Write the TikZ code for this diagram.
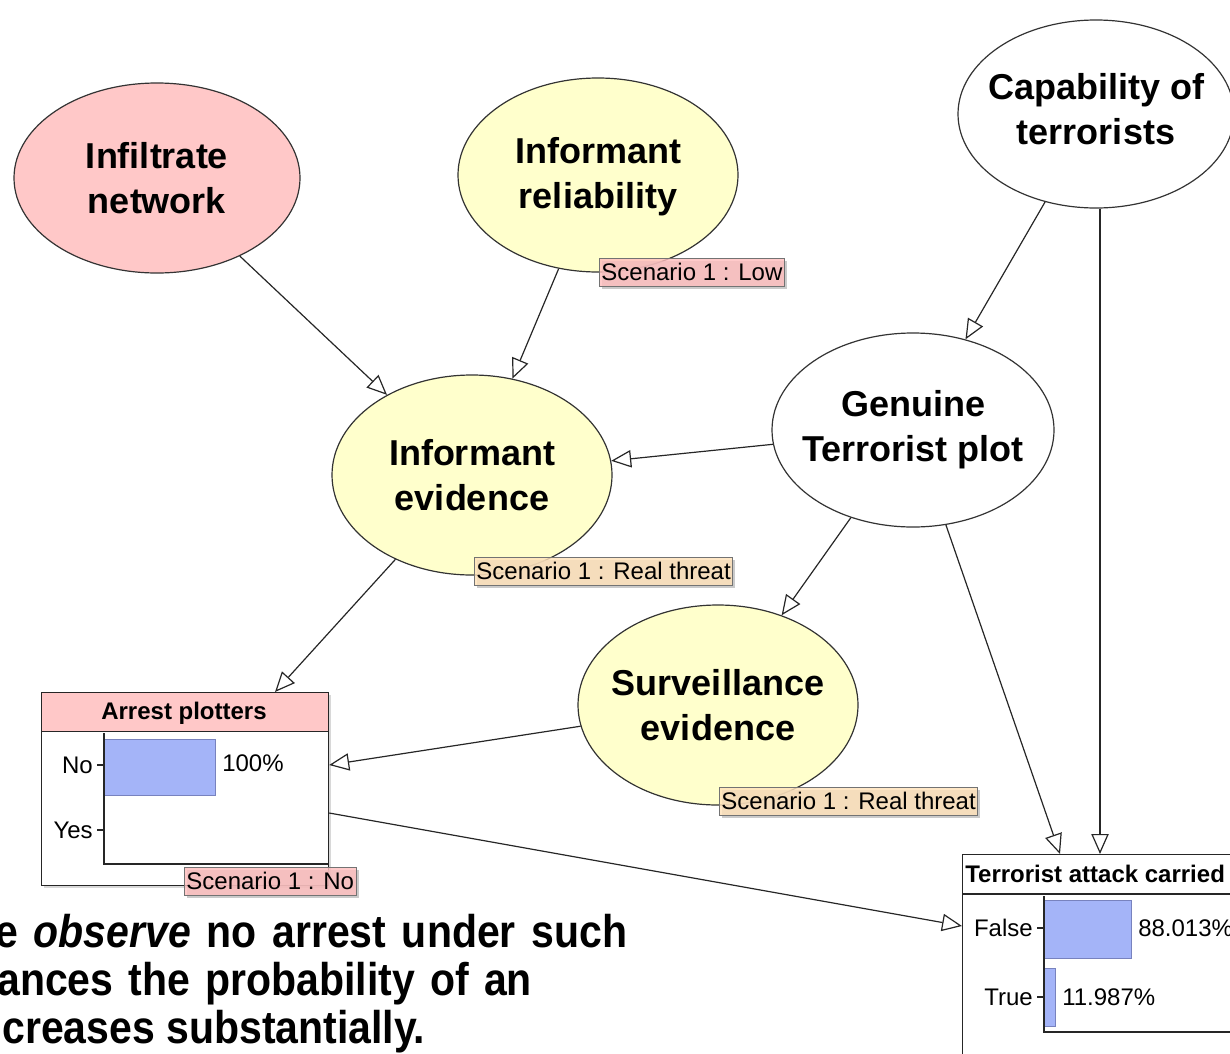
\documentclass[tikz,border=0pt]{standalone}
\usepackage{fontspec}
\setmainfont{Liberation Sans}
\usetikzlibrary{shapes.geometric,arrows.meta,calc,shadows}
\definecolor{evpink}{RGB}{255,200,200}
\definecolor{evyellow}{RGB}{255,255,204}
\definecolor{lblpink}{RGB}{255,190,190}
\definecolor{lblorange}{RGB}{255,226,186}
\definecolor{barblue}{RGB}{164,180,248}
\definecolor{bardraw}{RGB}{120,130,190}
% justified caption line, slightly stretched vertically
\newcommand{\capline}[2]{\scalebox{1}[1.12]{\makebox[#1][s]{#2}}}
\newcommand{\caplast}[1]{\scalebox{1}[1.12]{#1}}
\begin{document}
\begin{tikzpicture}[x=0.75pt,y=-0.75pt,
  bn/.style={ellipse,draw=black!80,line width=0.9pt,inner sep=0pt},
  bntext/.style={align=center,inner sep=0pt,font=\fontsize{27}{34}\selectfont\bfseries},
  esize/.style 2 args={minimum width=#1*0.75pt,minimum height=#2*0.75pt},
  link/.style={draw=black!85,line width=0.9pt,
    -{Triangle[fill=white,length=15pt,width=13pt,line width=0.9pt]}},
  small/.style={font=\fontsize{18}{21}\selectfont},
  smallbold/.style={font=\fontsize{18}{21}\selectfont\bfseries},
  scen/.style={draw=black!55,line width=0.6pt,fill opacity=0.82,text opacity=1,
    anchor=north west,inner xsep=1.5pt,inner ysep=0pt,minimum height=28*0.75pt,
    font=\fontsize{18}{21}\selectfont,
    drop shadow={shadow xshift=2pt,shadow yshift=-2pt,fill=black!35,opacity=0.6}},
  panel/.style={draw=black!85,line width=0.9pt,fill=white,anchor=north west,inner sep=0pt},
  bar/.style={fill=barblue,draw=bardraw,line width=0.6pt,anchor=north west,inner sep=0pt},
  axis/.style={draw=black!85,line width=1pt},
  caption/.style={anchor=base west,inner sep=0pt,font=\fontsize{30.75}{36}\selectfont\bfseries}
]
\useasboundingbox (0,0) rectangle (1230,1053);
\clip (0,0) rectangle (1230,1053);

% ---- chance nodes ----
\node[bn,esize={286}{190},fill=evpink] (inf) at (157,178) {};
\node[bntext] (inf-t) at (inf) {Infiltrate\\network};
\node[bn,esize={280}{194},fill=evyellow] (rel) at (598,175) {};
\node[bntext] (rel-t) at (598,177) {Informant\\reliability};
\node[bn,esize={276}{188},fill=white] (cap) at (1096,114) {};
\node[bntext] (cap-t) at (1096,109) {Capability of\\terrorists};
\node[bn,esize={282}{194},fill=white] (gen) at (913,430) {};
\node[bntext] (gen-t) at (gen) {Genuine\\Terrorist plot};
\node[bn,esize={280}{200},fill=evyellow] (infev) at (472,475) {};
\node[bntext] (infev-t) at (infev) {Informant\\evidence};
\node[bn,esize={280}{200},fill=evyellow] (surv) at (718,705) {};
\node[bntext] (surv-t) at (surv) {Surveillance\\evidence};

% ---- monitor: Arrest plotters ----
\node[panel,minimum width=287*0.75pt,minimum height=193*0.75pt,
  drop shadow={shadow xshift=2pt,shadow yshift=-2pt,fill=black!30,opacity=0.5}] (arrest) at (41,692) {};
\node[panel,fill=evpink,minimum width=287*0.75pt,minimum height=39*0.75pt] (arrhead) at (41,692) {};
\node[smallbold,inner sep=0pt] (arrtitle) at (184,713) {Arrest plotters};
\node[bar,minimum width=111*0.75pt,minimum height=56*0.75pt] (barno) at (104,739) {};
\draw[axis] (104,733) -- (104,864) -- (328,864);
\draw[axis] (97,765) -- (104,765);
\draw[axis] (97,830) -- (104,830);
\node[small,anchor=east,inner sep=0pt] (lno) at (93,765) {No};
\node[small,anchor=east,inner sep=0pt] (lyes) at (93,830) {Yes};
\node[small,anchor=west,inner sep=0pt] (pno) at (222,763) {100\%};

% ---- monitor: Terrorist attack carried out ----
\node[panel,minimum width=300*0.75pt,minimum height=230*0.75pt] (tac) at (962,854) {};
\draw[axis] (962,894) -- (1230,894);
\node[smallbold,anchor=west,inner sep=0pt] (tachead) at (965,874) {Terrorist attack carried};
\node[bar,minimum width=87*0.75pt,minimum height=58*0.75pt] (barfalse) at (1044,900) {};
\node[bar,minimum width=11*0.75pt,minimum height=58*0.75pt] (bartrue) at (1044,968) {};
\draw[axis] (1044,896) -- (1044,1032) -- (1230,1032);
\draw[axis] (1037,928) -- (1044,928);
\draw[axis] (1037,997) -- (1044,997);
\node[small,anchor=east,inner sep=0pt] (lfalse) at (1033,928) {False};
\node[small,anchor=east,inner sep=0pt] (ltrue) at (1033,997) {True};
\node[small,anchor=west,inner sep=0pt] (pfalse) at (1138,928) {88.013\%};
\node[small,anchor=west,inner sep=0pt] (ptrue) at (1062,997) {11.987\%};

% ---- links ----
\draw[link] (inf) -- (infev);
\draw[link] (rel) -- (infev);
\draw[link] (cap) -- (gen);
\draw[link] (gen) -- (infev);
\draw[link] (gen) -- (surv);
\draw[link] (infev) -- ($(arrest.north west)+(234,0)$);
\draw[link] (surv) -- ($(arrest.north east)+(0,73)$);
\draw[link] ($(arrest.north east)+(0,121)$) -- ($(tac.north west)+(0,72)$);
\draw[link] (gen) -- ($(tac.north west)+(98,0)$);
\draw[link] ($(cap.south)+(4,0)$) -- ($(tac.north west)+(138,0)$);

% ---- scenario findings ----
\node[scen,fill=lblpink] (frel) at (599,258) {Scenario 1 : Low\hspace{12pt}};
\node[scen,fill=lblorange] (finfev) at (474,557) {Scenario 1 : Real threat\hspace{11pt}};
\node[scen,fill=lblorange] (fsurv) at (719,787) {Scenario 1 : Real threat\hspace{11pt}};
\node[scen,fill=lblpink] (farr) at (184,867) {Scenario 1 : No\hspace{12pt}};

% ---- caption ----
\node[caption] (cap1) at (-5,947) {\capline{474pt}{e \textit{observe} no arrest under such}};
\node[caption] (cap2) at (-3,995) {\capline{401pt}{ances the probability of an}};
\node[caption] (cap3) at (2,1043) {\caplast{creases substantially.}};
\end{tikzpicture}
\end{document}
